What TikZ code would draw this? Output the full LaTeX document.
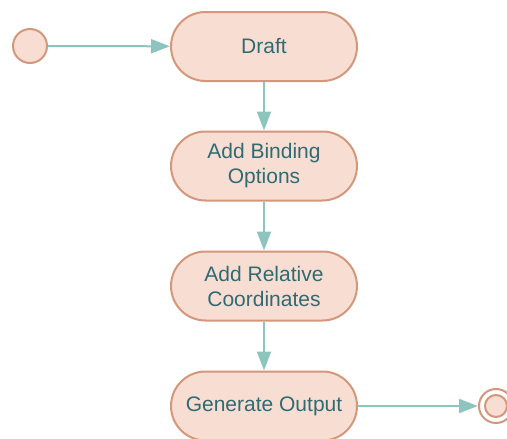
\documentclass[tikz,border=0pt]{standalone}
\usepackage{fontspec}
\setmainfont{Liberation Sans}
\usetikzlibrary{arrows.meta}
\definecolor{nodefill}{HTML}{F8DDD3}
\definecolor{nodeline}{HTML}{D4977C}
\definecolor{txt}{HTML}{2F6B72}
\definecolor{conn}{HTML}{8EC4BE}
\begin{document}
\begin{tikzpicture}[x=1pt,y=-1pt,
  state/.style={draw=nodeline,fill=nodefill,line width=2pt,rounded corners=34.5pt,
    minimum width=186pt,minimum height=69pt,inner sep=0pt,align=center,
    text=txt,font=\fontsize{21}{25}\selectfont},
  startst/.style={circle,draw=nodeline,fill=nodefill,line width=2pt,minimum size=34pt,inner sep=0pt},
  conn/.style={draw=conn,line width=2pt,-{Triangle[length=19pt,width=14pt]}}]
\useasboundingbox (0,0) rectangle (507,439);
\node[startst] (s) at (30,46) {};
\node[state] (a) at (264,46.5) {Draft};
\node[state] (b) at (264,166) {Add Binding\\Options};
\node[state] (c) at (264,286) {Add Relative\\Coordinates};
\node[state] (d) at (264,406) {Generate Output};
\node[circle,draw=nodeline,fill=white,line width=2pt,minimum size=34pt,inner sep=0pt] (e) at (496,406) {};
\node[circle,draw=nodeline,fill=nodefill,line width=2pt,minimum size=22pt,inner sep=0pt] (e2) at (496,406) {};
\draw[conn] (s) -- (a);
\draw[conn] (a) -- (b);
\draw[conn] (b) -- (c);
\draw[conn] (c) -- (d);
\draw[conn] (d) -- (e);
\end{tikzpicture}
\end{document}
